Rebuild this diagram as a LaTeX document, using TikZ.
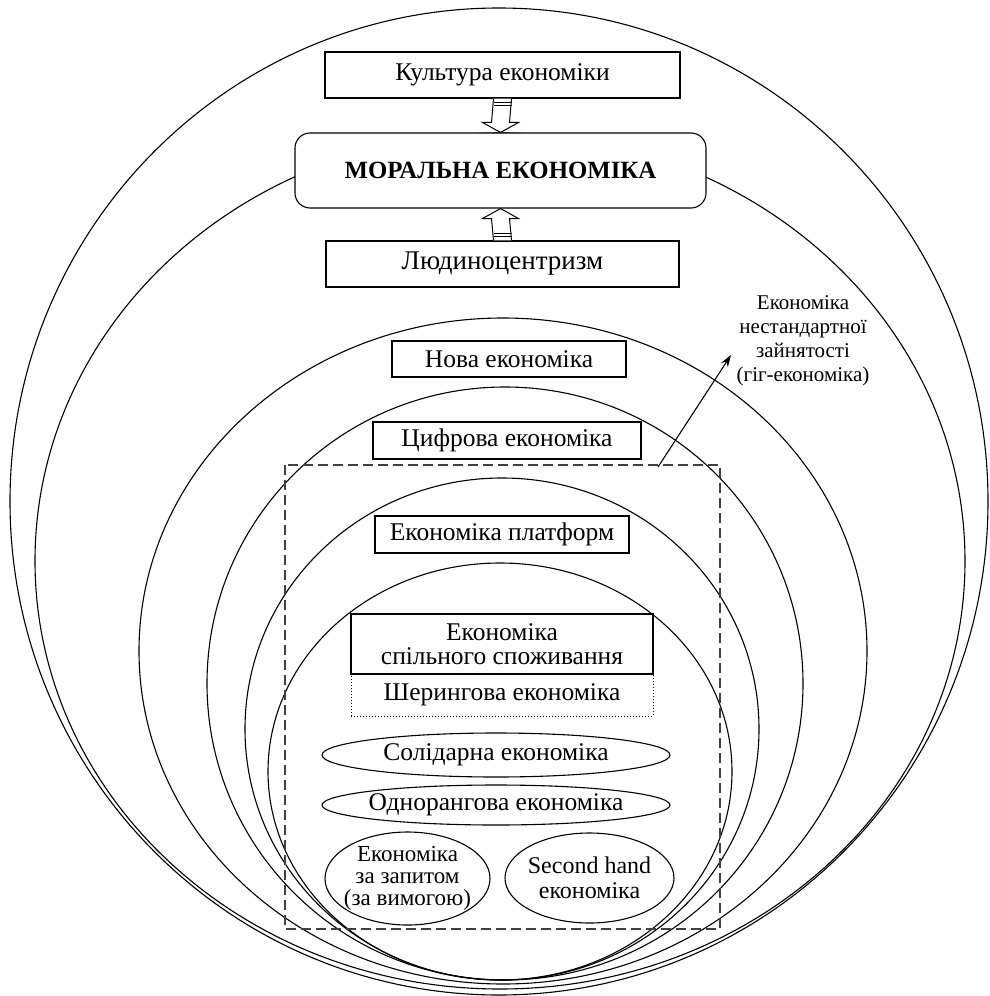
\documentclass[tikz,border=0pt]{standalone}
\usepackage{fontspec}
\setmainfont{Liberation Serif}
\usetikzlibrary{shapes.geometric,calc,arrows.meta}
\begin{document}
\begin{tikzpicture}[x=1pt,y=-1pt,
  ring/.style={line width=1.1pt},
  lbl/.style={font=\fontsize{25.5}{24}\selectfont},
  boxnode/.style={draw,line width=1.1pt,fill=white,inner sep=0pt,lbl,align=center},
  ovalnode/.style={draw,ellipse,line width=1.1pt,fill=white,inner xsep=-15pt,inner ysep=-10pt,lbl,align=center},
  blockarrow/.style={draw,line width=1pt,fill=white,line join=miter}
]
\useasboundingbox (0,0) rectangle (989,996);
% nested rings
\draw[ring] (499,501.5) ellipse [x radius=489pt, y radius=493.5pt];
\draw[ring] (500,561) ellipse [x radius=465pt, y radius=428pt];
\draw[ring] (503,651) ellipse [x radius=364pt, y radius=333pt];
\draw[ring] (505,683.5) ellipse [x radius=298pt, y radius=296.5pt];
\draw[ring] (502,729) ellipse [x radius=257pt, y radius=251pt];
\draw[ring] (500,771.5) ellipse [x radius=232pt, y radius=208.5pt];
% top boxes
\node[boxnode,minimum width=355pt,minimum height=46pt] (kult) at (502.5,75) {Культура економіки};
\node[boxnode,rounded corners=15pt,minimum width=411pt,minimum height=75pt,font=\fontsize{24.8}{26}\selectfont\bfseries] (moral) at (500.5,170.5) {МОРАЛЬНА ЕКОНОМІКА};
\node[boxnode,minimum width=353pt,minimum height=46pt,font=\fontsize{27}{26}\selectfont] (lyud) at (502.5,264) {Людиноцентризм};
% block arrows
\draw[blockarrow] ($(kult.south)+(-9,0)$) -- ($(moral.north)+(-9,-10)$) -- ($(moral.north)+(-18,-10)$) -- (moral.north) -- ($(moral.north)+(18,-10)$) -- ($(moral.north)+(9,-10)$) -- ($(kult.south)+(9,0)$);
\draw[line width=1pt] ($(kult.south)+(-9,4)$) -- ($(kult.south)+(9,4)$);
\draw[line width=1pt] ($(kult.south)+(-9,6.5)$) -- ($(kult.south)+(9,6.5)$);
\draw[blockarrow] ($(lyud.north)+(-9,0)$) -- ($(moral.south)+(-9,10)$) -- ($(moral.south)+(-18,10)$) -- (moral.south) -- ($(moral.south)+(18,10)$) -- ($(moral.south)+(9,10)$) -- ($(lyud.north)+(9,0)$);
\draw[line width=1pt] ($(lyud.north)+(-9,-4)$) -- ($(lyud.north)+(9,-4)$);
\draw[line width=1pt] ($(lyud.north)+(-9,-6.5)$) -- ($(lyud.north)+(9,-6.5)$);
% inner boxes
\node[boxnode,minimum width=234pt,minimum height=36pt] (nova) at (509,359) {Нова економіка};
\node[boxnode,minimum width=268pt,minimum height=37pt] (tsyfr) at (507,440.5) {Цифрова економіка};
\node[boxnode,minimum width=254pt,minimum height=37pt] (platf) at (502,534.5) {Економіка платформ};
\node[draw,dotted,line width=1pt,fill=white,inner sep=0pt,lbl,minimum width=302pt,minimum height=42pt] (sher) at (502,695) {Шерингова економіка};
\node[boxnode,line width=2pt,minimum width=302pt,minimum height=60pt] (spil) at (502,644) {Економіка\\спільного споживання};
% ovals
\node[ovalnode,minimum width=348pt,minimum height=44pt] (solid) at (496,755) {Солідарна економіка};
\node[ovalnode,minimum width=348pt,minimum height=40pt] (odno) at (496,805) {Однорангова економіка};
\node[ovalnode,minimum width=165pt,minimum height=93pt,font=\fontsize{23}{22}\selectfont] (zapyt) at (407.5,878.5) {Економіка\\за запитом\\(за вимогою)};
\node[ovalnode,minimum width=169pt,minimum height=90pt,font=\fontsize{24}{25}\selectfont] (second) at (589.5,878) {Second hand\\економіка};
% dashed frame
\draw[dashed,dash pattern=on 10pt off 5pt,line width=1.1pt,black!75] (285,465) rectangle (720,929);
% gig economy
\node[align=center,inner sep=0pt,font=\fontsize{21}{24}\selectfont] (gig) at (803,341) {Економіка\\нестандартної\\зайнятості\\(гіг-економіка)};
\coordinate (gigstart) at (658,467);
\coordinate (gigtip) at (731,355);
\draw[line width=1.1pt,-{Stealth[length=12pt,width=8pt]}] (gigstart) -- (gigtip);
\end{tikzpicture}
\end{document}
